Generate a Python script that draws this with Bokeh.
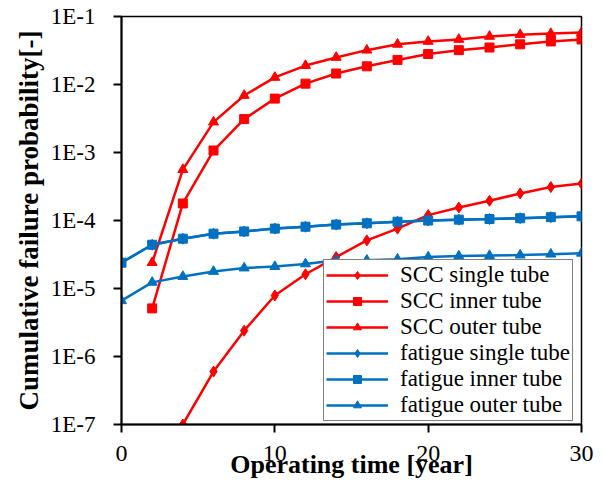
from bokeh.plotting import figure
from bokeh.models import Legend, LegendItem, FixedTicker, CustomJSTickFormatter, Range1d
from bokeh.embed import file_html
from bokeh.resources import INLINE

years = [0, 2, 4, 6, 8, 10, 12, 14, 16, 18, 20, 22, 24, 26, 28, 30]

scc_single_x = [4, 6, 8, 10, 12, 14, 16, 18, 20, 22, 24, 26, 28, 30]
scc_single = [1.0e-7, 6.0e-7, 2.4e-6, 7.9e-6, 1.62e-5, 2.9e-5, 5.1e-5, 7.6e-5,
              1.2e-4, 1.55e-4, 1.95e-4, 2.5e-4, 3.1e-4, 3.5e-4]
scc_x = [2, 4, 6, 8, 10, 12, 14, 16, 18, 20, 22, 24, 26, 28, 30]
scc_inner = [5.1e-6, 1.78e-4, 1.07e-3, 3.1e-3, 6.2e-3, 1.03e-2, 1.45e-2, 1.85e-2,
             2.3e-2, 2.8e-2, 3.2e-2, 3.5e-2, 3.9e-2, 4.3e-2, 4.6e-2]
scc_outer = [2.4e-5, 5.6e-4, 2.8e-3, 6.9e-3, 1.27e-2, 1.9e-2, 2.5e-2, 3.2e-2,
             3.9e-2, 4.3e-2, 4.6e-2, 5.1e-2, 5.4e-2, 5.6e-2, 5.8e-2]
fat_single = [2.4e-5, 4.4e-5, 5.4e-5, 6.4e-5, 6.9e-5, 7.6e-5, 8.1e-5, 8.7e-5,
              9.1e-5, 9.6e-5, 1.0e-4, 1.03e-4, 1.05e-4, 1.08e-4, 1.12e-4, 1.15e-4]
fat_inner = [2.4e-5, 4.4e-5, 5.4e-5, 6.4e-5, 6.9e-5, 7.6e-5, 8.1e-5, 8.7e-5,
             9.1e-5, 9.6e-5, 1.0e-4, 1.03e-4, 1.05e-4, 1.08e-4, 1.12e-4, 1.15e-4]
fat_outer = [6.6e-6, 1.23e-5, 1.5e-5, 1.78e-5, 2.0e-5, 2.1e-5, 2.3e-5, 2.6e-5,
             2.6e-5, 2.7e-5, 2.9e-5, 3.0e-5, 3.05e-5, 3.1e-5, 3.2e-5, 3.3e-5]

x_ticks = [0, 10, 20, 30]
y_ticks = [1e-7, 1e-6, 1e-5, 1e-4, 1e-3, 1e-2, 1e-1]

RED = "#FF0000"
BLUE = "#0070C0"
FONT = "Liberation Serif"

p = figure(width=595, height=482, y_axis_type="log", output_backend="svg",
           toolbar_location=None, x_range=Range1d(0, 30), y_range=Range1d(1e-7, 1e-1),
           min_border_left=121, min_border_right=14, min_border_top=16, min_border_bottom=58)
p.grid.visible = False
p.outline_line_color = "black"
p.outline_line_width = 1.5

series = [
    (scc_single_x, scc_single, RED, "diamond", 11, "SCC single tube"),
    (scc_x, scc_inner, RED, "square", 9, "SCC inner tube"),
    (scc_x, scc_outer, RED, "triangle", 10, "SCC outer tube"),
    (years, fat_single, BLUE, "diamond", 11, "fatigue single tube"),
    (years, fat_inner, BLUE, "square", 9, "fatigue inner tube"),
    (years, fat_outer, BLUE, "triangle", 10, "fatigue outer tube"),
]

items = []
for xs, ys, col, mk, sz, lab in series:
    l = p.line(xs, ys, line_color=col, line_width=2.5)
    s = p.scatter(xs, ys, marker=mk, size=sz, fill_color=col, line_color=col)
    items.append(LegendItem(label=lab, renderers=[l, s]))

legend = Legend(items=items, location=(202, 3))
legend.label_text_font = FONT
legend.label_text_font_size = "23px"
legend.label_text_color = "black"
legend.border_line_color = "black"
legend.border_line_width = 1.5
legend.background_fill_alpha = 1
legend.glyph_width = 62
legend.glyph_height = 20
legend.label_height = 20
legend.spacing = 0
legend.padding = 2
legend.margin = 0
legend.label_standoff = 12
p.add_layout(legend)

p.xaxis.ticker = FixedTicker(ticks=x_ticks)
p.yaxis.ticker = FixedTicker(ticks=y_ticks)
p.yaxis.formatter = CustomJSTickFormatter(code="return '1E' + Math.round(Math.log10(tick));")
p.xaxis.minor_tick_line_color = None
p.yaxis.minor_tick_line_color = None

for ax in (p.xaxis[0], p.yaxis[0]):
    ax.axis_line_color = "black"
    ax.axis_line_width = 2
    ax.major_tick_line_color = "black"
    ax.major_tick_line_width = 2
    ax.major_tick_out = 8
    ax.major_tick_in = 0
    ax.major_label_text_font = FONT
    ax.major_label_text_color = "black"
    ax.axis_label_text_font = FONT
    ax.axis_label_text_font_style = "bold"
    ax.axis_label_text_color = "black"

p.xaxis.major_label_text_font_size = "24px"
p.yaxis.major_label_text_font_size = "23px"
p.xaxis.axis_label_text_font_size = "26px"
p.yaxis.axis_label_text_font_size = "27px"

p.xaxis.axis_label = "Operating time [year]"
p.yaxis.axis_label = "Cumulative failure probability[-]"
p.xaxis.major_label_standoff = 13
p.xaxis.axis_label_standoff = -14
p.yaxis.major_label_standoff = 18
p.yaxis.axis_label_standoff = 4

open("out.html", "w").write(file_html(p, INLINE))
